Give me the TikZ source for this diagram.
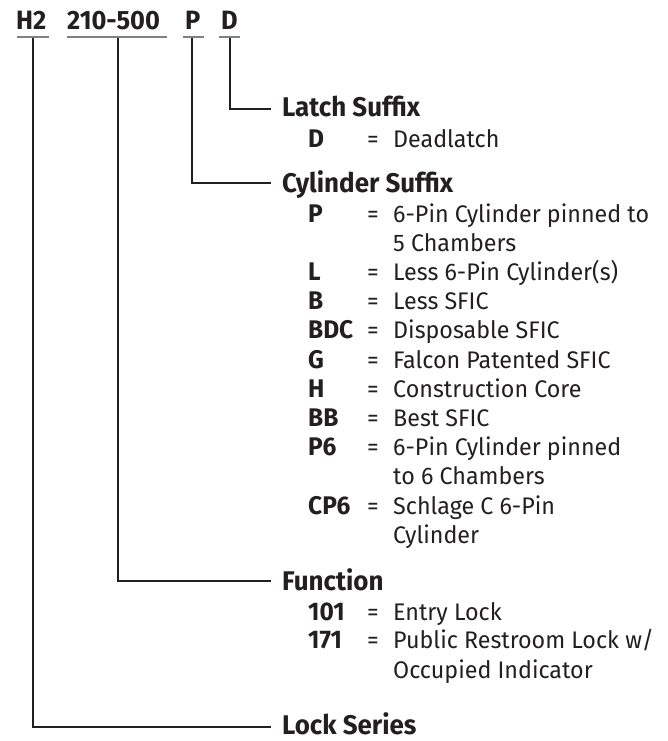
\documentclass[tikz,border=0pt]{standalone}
\usepackage{fontspec}
\setmainfont{Fira Sans}
\newfontfamily\descfont{Fira Sans}[FakeStretch=0.97]
\newfontfamily\codefont{Fira Sans}[FakeStretch=0.96]
\definecolor{ink}{HTML}{231F20}
\definecolor{ulgray}{HTML}{808080}
\tikzset{
  topcode/.style={anchor=base west, inner sep=0pt, text depth=0pt, text=ink, font=\codefont\bfseries\fontsize{26.5}{27}\selectfont},
  heading/.style={anchor=base west, inner sep=0pt, text depth=0pt, text=ink, font=\codefont\bfseries\fontsize{27}{28}\selectfont},
  code/.style={anchor=base west, inner sep=0pt, text=ink, font=\codefont\bfseries\fontsize{25.5}{26}\selectfont},
  eqs/.style={anchor=base west, inner sep=0pt, text=ink, font=\descfont\fontsize{24}{25}\selectfont},
  desc/.style={anchor=base west, inner sep=0pt, text=ink, font=\descfont\fontsize{24}{25}\selectfont},
  conn/.style={draw=ink, line width=2pt},
  uline/.style={draw=ulgray, line width=1.7pt}
}
\begin{document}
\begin{tikzpicture}[x=1pt,y=-1pt]
\useasboundingbox (0,0) rectangle (668,741);
% top codes
\node[topcode] (cH) at (16,30) {H2};
\node[topcode] (cF) at (67,30) {210-500};
\node[topcode] (cP) at (185,30) {P};
\node[topcode] (cD) at (221,30) {D};
% underlines
\coordinate (uH1) at (17,37); \coordinate (uH2) at (49,37);
\coordinate (uF1) at (67,37); \coordinate (uF2) at (167,37);
\coordinate (uP1) at (183,37); \coordinate (uP2) at (204,37);
\coordinate (uD1) at (219,37); \coordinate (uD2) at (240,37);
\draw[uline] (uH1) -- (uH2);
\draw[uline] (uF1) -- (uF2);
\draw[uline] (uP1) -- (uP2);
\draw[uline] (uD1) -- (uD2);
% connector starts
\coordinate (sH) at (33,38);
\coordinate (sF) at (118,38);
\coordinate (sP) at (192,38);
\coordinate (sD) at (230,38);
% connector ends
\coordinate (eD) at (271,109);
\coordinate (eP) at (271,183);
\coordinate (eF) at (271,581);
\coordinate (eH) at (271,727);
\draw[conn] (sD) |- (eD);
\draw[conn] (sP) |- (eP);
\draw[conn] (sF) |- (eF);
\draw[conn] (sH) |- (eH);
% headings
\node[heading] (hLatch) at (282,117) {Latch Suffix};
\node[heading] (hCyl) at (282,192) {Cylinder Suffix};
\node[heading] (hFun) at (282,590) {Function};
\node[heading] (hLock) at (282,734) {Lock Series};
% latch entries
\node[code] (kD) at (308,147) {D};
\node[eqs] (qD) at (367,147) {=};
\node[desc] (dD) at (393,147) {Deadlatch};
% cylinder entries
\node[code] (kP) at (308,222) {P};
\node[eqs] (qP) at (367,222) {=};
\node[desc] (dP) at (393,222) {6-Pin Cylinder pinned to};
\node[desc] (dP2) at (393,251) {5 Chambers};
\node[code] (kL) at (308,280) {L};
\node[eqs] (qL) at (367,280) {=};
\node[desc] (dL) at (393,280) {Less 6-Pin Cylinder(s)};
\node[code] (kB) at (308,309) {B};
\node[eqs] (qB) at (367,309) {=};
\node[desc] (dB) at (393,309) {Less SFIC};
\node[code] (kBDC) at (308,338) {BDC};
\node[eqs] (qBDC) at (367,338) {=};
\node[desc] (dBDC) at (393,338) {Disposable SFIC};
\node[code] (kG) at (308,368) {G};
\node[eqs] (qG) at (367,368) {=};
\node[desc] (dG) at (393,368) {Falcon Patented SFIC};
\node[code] (kH) at (308,397) {H};
\node[eqs] (qH) at (367,397) {=};
\node[desc] (dH) at (393,397) {Construction Core};
\node[code] (kBB) at (308,426) {BB};
\node[eqs] (qBB) at (367,426) {=};
\node[desc] (dBB) at (393,426) {Best SFIC};
\node[code] (kP6) at (308,455) {P6};
\node[eqs] (qP6) at (367,455) {=};
\node[desc] (dP6) at (393,455) {6-Pin Cylinder pinned};
\node[desc] (dP62) at (393,484) {to 6 Chambers};
\node[code] (kCP6) at (308,514) {CP6};
\node[eqs] (qCP6) at (367,514) {=};
\node[desc] (dCP6) at (393,514) {Schlage C 6-Pin};
\node[desc] (dCP62) at (393,543) {Cylinder};
% function entries
\node[code] (k101) at (308,620) {101};
\node[eqs] (q101) at (367,620) {=};
\node[desc] (d101) at (393,620) {Entry Lock};
\node[code] (k171) at (308,648) {171};
\node[eqs] (q171) at (367,648) {=};
\node[desc] (d171) at (393,648) {Public Restroom Lock w/};
\node[desc] (d1712) at (393,678) {Occupied Indicator};
\end{tikzpicture}
\end{document}
